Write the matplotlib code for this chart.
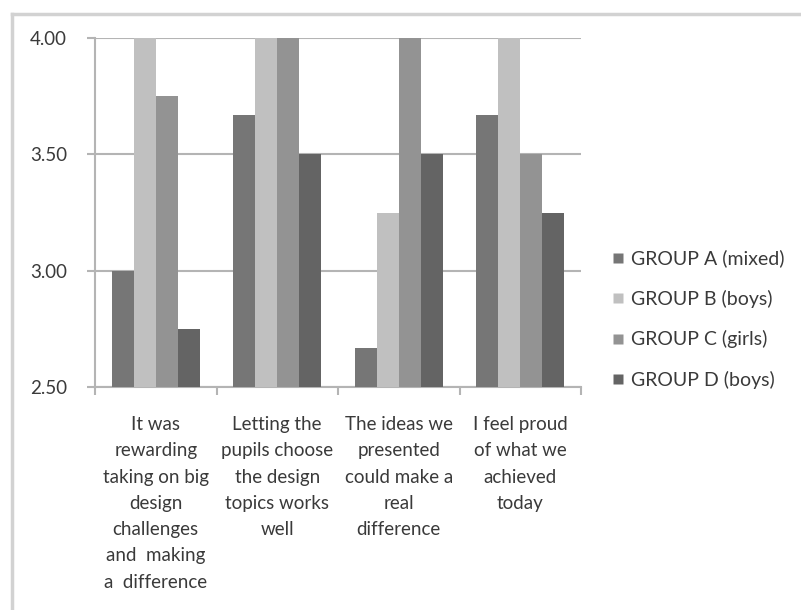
import matplotlib
matplotlib.use("Agg")
import matplotlib.pyplot as plt
from matplotlib.lines import Line2D
import numpy as np

categories = [
    "It was\nrewarding\ntaking on big\ndesign\nchallenges\nand  making\na  difference",
    "Letting the\npupils choose\nthe design\ntopics works\nwell",
    "The ideas we\npresented\ncould make a\nreal\ndifference",
    "I feel proud\nof what we\nachieved\ntoday",
]
series_names = ["GROUP A (mixed)", "GROUP B (boys)", "GROUP C (girls)", "GROUP D (boys)"]
group_a = [3.00, 3.667, 2.667, 3.667]
group_b = [4.00, 4.00, 3.25, 4.00]
group_c = [3.75, 4.00, 4.00, 3.50]
group_d = [2.75, 3.50, 3.50, 3.25]
y_ticks = [2.50, 3.00, 3.50, 4.00]

colors = ["#767676", "#c0c0c0", "#939393", "#646464"]
text_color = "#3a3a3a"
grid_color = "#b4b4b4"

plt.rcParams["font.family"] = ["Lato", "DejaVu Sans"]

W, H = 801, 610
fig = plt.figure(figsize=(W / 100, H / 100), dpi=100)

def px_box(x0, y0, x1, y1):
    return [x0 / W, 1 - y1 / H, (x1 - x0) / W, (y1 - y0) / H]

ax = fig.add_axes(px_box(95, 38, 581, 387))

values = [group_a, group_b, group_c, group_d]
n_cat = len(categories)
n_ser = len(values)
x = np.arange(n_cat)
bar_w = 1.0 / (n_ser + 1.5)
for i, (vals, col) in enumerate(zip(values, colors)):
    offs = (i - (n_ser - 1) / 2) * bar_w
    ax.bar(x + offs, np.array(vals) - y_ticks[0], bar_w, bottom=y_ticks[0],
           color=col, edgecolor="none", zorder=3, label=series_names[i])

ax.set_xlim(-0.5, n_cat - 0.5)
ax.set_ylim(y_ticks[0], y_ticks[-1])
ax.set_yticks(y_ticks)
ax.set_yticklabels([f"{v:.2f}" for v in y_ticks])
ax.yaxis.grid(True, color=grid_color, linewidth=1.5, zorder=0)
ax.set_axisbelow(True)

# category boundary ticks and centred labels
ax.set_xticks(np.arange(-0.5, n_cat, 1.0))
ax.set_xticklabels([])
ax.set_xticks(x, minor=True)
ax.set_xticklabels(categories, minor=True, fontsize=13.5, color=text_color,
                   linespacing=1.66, ha="center", va="top")
ax.tick_params(axis="x", which="minor", length=0, pad=21)
ax.tick_params(axis="x", which="major", length=6, color=grid_color, width=1.5)
ax.tick_params(axis="y", length=6, color=grid_color, width=1.5,
               labelsize=13.5, labelcolor=text_color, pad=14)

for s in ["top", "right"]:
    ax.spines[s].set_visible(False)
for s in ["left", "bottom"]:
    ax.spines[s].set_color(grid_color)
    ax.spines[s].set_linewidth(1.5)

handles = [Line2D([], [], marker="s", linestyle="none", markersize=7,
                  markerfacecolor=c, markeredgecolor="none") for c in colors]
fig.legend(handles, series_names, loc="upper left",
           bbox_to_anchor=(600 / W, 1 - 240 / H), frameon=False,
           fontsize=14, labelcolor=text_color, labelspacing=1.15,
           handlelength=0.8, handletextpad=0.3, borderpad=0)

# outer chart frame
fig.add_artist(Line2D([12 / W, 1], [1 - 14 / H, 1 - 14 / H], color="#d2d2d2",
                      linewidth=2.5, transform=fig.transFigure))
fig.add_artist(Line2D([12 / W, 12 / W], [0, 1 - 14 / H], color="#d2d2d2",
                      linewidth=2.5, transform=fig.transFigure))

fig.savefig("out.png", dpi=100)
